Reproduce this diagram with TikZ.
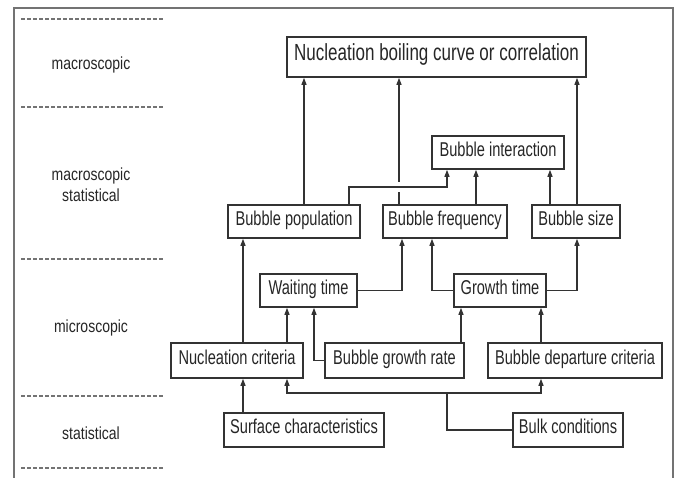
\documentclass[tikz,border=0pt]{standalone}
\usepackage{fontspec}
\setmainfont{Liberation Sans}
\newfontfamily\boxfont[FakeStretch=0.73]{Liberation Sans}
\newfontfamily\lblfont[FakeStretch=0.8]{Liberation Sans}
\usetikzlibrary{arrows.meta,calc}
\begin{document}
\begin{tikzpicture}[x=1pt,y=-1pt,
  box/.style={draw=black!80, line width=1.6pt, fill=white, inner sep=0pt,
    text height=0.716em, text depth=0pt, minimum height=33pt,
    font=\boxfont\fontsize{20}{24}\selectfont, text=black!85},
  conn/.style={draw=black!80, line width=1.2pt},
  arr/.style={conn, -{Triangle[width=5pt,length=7pt]}},
  lvl/.style={font=\lblfont\fontsize{17.5}{21}\selectfont, text=black!85, align=center},
  sep/.style={draw=black!55, line width=2pt, dash pattern=on 4pt off 2pt},
  frame/.style={draw=black!55, line width=2.5pt}]
\useasboundingbox (0,0) rectangle (679,477);
\draw[frame] (14,480) -- (14,8) -- (673,8) -- (673,480);
% level separators
\foreach \yy in {19,107,259,396,468} \draw[sep] (21,\yy) -- (163,\yy);
% level labels
\node[lvl] (l1) at (91,65) {macroscopic};
\node[lvl] (l2) at (91,185) {macroscopic\\statistical};
\node[lvl] (l3) at (91,328) {microscopic};
\node[lvl] (l4) at (91,433) {statistical};
% boxes
\node[box, minimum width=299pt, minimum height=40pt, font=\boxfont\fontsize{23.3}{28}\selectfont] (nbc) at (436.5,57) {Nucleation boiling curve or correlation};
\node[box, minimum width=132pt] (bint) at (498,152.5) {Bubble interaction};
\node[box, minimum width=132pt] (bpop) at (294,221.5) {Bubble population};
\node[box, minimum width=124pt] (bfreq) at (445,221.5) {Bubble frequency};
\node[box, minimum width=88pt] (bsize) at (576,221.5) {Bubble size};
\node[box, minimum width=97pt] (wait) at (308.5,290.5) {Waiting time};
\node[box, minimum width=92pt] (grow) at (500,290.5) {Growth time};
\node[box, minimum width=132pt, minimum height=35pt] (ncrit) at (237,360.5) {Nucleation criteria};
\node[box, minimum width=139pt, minimum height=35pt] (bgr) at (394.5,360.5) {Bubble growth rate};
\node[box, minimum width=174pt, minimum height=35pt] (bdep) at (575,360.5) {Bubble departure criteria};
\node[box, minimum width=160pt, minimum height=34pt] (surf) at (304,430) {Surface characteristics};
\node[box, minimum width=110pt, minimum height=34pt] (bulk) at (568,430) {Bulk conditions};
% helper coordinates
\foreach \xx in {243,287,304,314,349,399,402,432,447,461,476,541,550,577}
  \coordinate (X\xx) at (\xx,0);
\coordinate (Y187) at (0,187);
\coordinate (J) at (447,393);
% connectors
\draw[arr] (bpop.north -| X304) -- (nbc.south -| X304);
\draw[arr] (bfreq.north -| X399) -- (nbc.south -| X399);
\draw[arr] (bsize.north -| X577) -- (nbc.south -| X577);
\fill[white] ($(X399 |- Y187)+(-3,-5)$) rectangle ($(X399 |- Y187)+(3,5)$);
\draw[arr] (bpop.north -| X349) |- (X447 |- Y187) -- (bint.south -| X447);
\draw[arr] (bfreq.north -| X476) -- (bint.south -| X476);
\draw[arr] (bsize.north -| X550) -- (bint.south -| X550);
\draw[arr] (ncrit.north -| X243) -- (bpop.south -| X243);
\draw[arr] (wait.east) -| (bfreq.south -| X402);
\draw[arr] (grow.west) -| (bfreq.south -| X432);
\draw[arr] (grow.east) -| (bsize.south -| X577);
\draw[arr] (ncrit.north -| X287) -- (wait.south -| X287);
\draw[arr] (bgr.west) -| (wait.south -| X314);
\draw[arr] (bgr.north -| X461) -- (grow.south -| X461);
\draw[arr] (bdep.north -| X541) -- (grow.south -| X541);
\draw[arr] (surf.north -| X243) -- (ncrit.south -| X243);
\draw[conn] (bulk.west) -| (J);
\draw[arr] (J) -| (ncrit.south -| X287);
\draw[arr] (J) -| (bdep.south -| X541);
\end{tikzpicture}
\end{document}
